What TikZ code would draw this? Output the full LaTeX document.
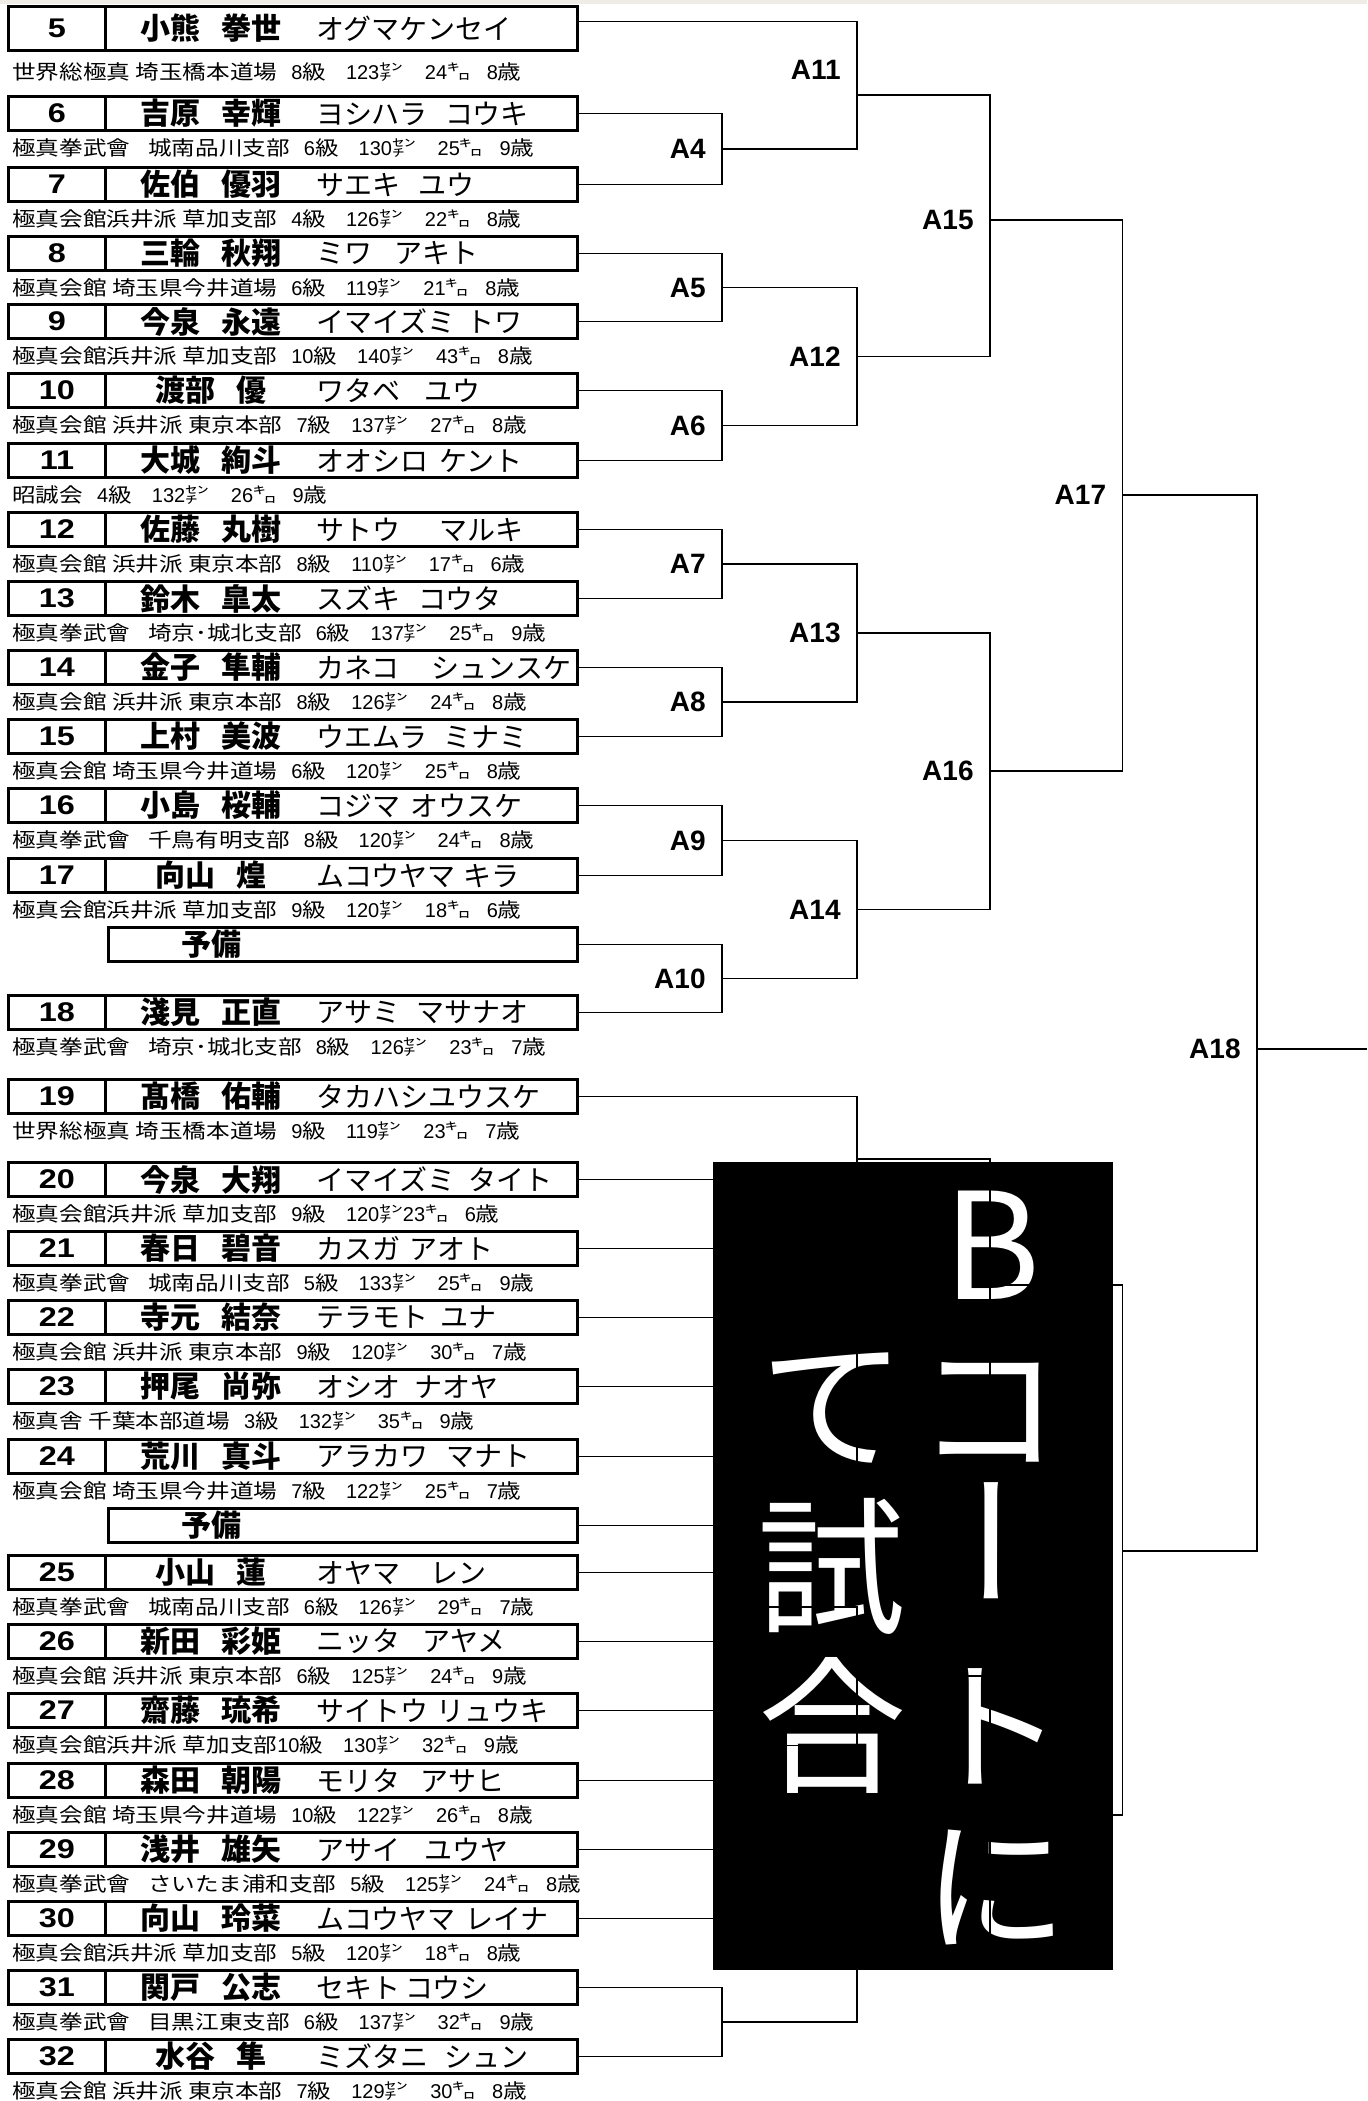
\documentclass[tikz,border=0pt]{standalone}
\usepackage{fontspec}
\newfontfamily\jpfont{Noto Sans CJK JP}
\newfontfamily\jpinfo{Noto Sans CJK JP}[FakeStretch=1.18]
\newfontfamily\bigfont{Noto Sans CJK JP}[RawFeature=+vert]
\newfontfamily\numfont{Liberation Sans}[FakeStretch=1.2]
\newfontfamily\labfont{Liberation Sans}
\usetikzlibrary{positioning}
\definecolor{sheet}{RGB}{238,236,228}

\newcommand{\dg}[1]{{\labfont\fontsize{10pt}{10pt}\selectfont #1}}
\newcommand{\stats}[4]{\hspace{7pt}\dg{#1}級\hspace{10pt}\dg{#2}㌢\hspace{11pt}\dg{#3}㌔\hspace{8pt}\dg{#4}歳}

\tikzset{
    pbox/.style={
    rectangle,draw=black,line width=1.5pt,minimum width=284.5pt,minimum height=17pt,inner sep=0pt
    },
    sbox/.style={
    pbox,minimum width=234.5pt
    },
    divline/.style={line width=1.5pt},
    numtext/.style={inner sep=0pt,font=\numfont\bfseries\fontsize{13.5pt}{13.5pt}\selectfont},
    kanjitext/.style={inner sep=0pt,font=\jpfont\bfseries\fontsize{15pt}{15pt}\selectfont},
    kanatext/.style={inner sep=0pt,anchor=west,font=\jpfont\fontsize{14pt}{14pt}\selectfont},
    infotext/.style={inner sep=0pt,anchor=west,font=\jpinfo\fontsize{10pt}{10pt}\selectfont},
    mlab/.style={inner sep=0pt,font=\labfont\bfseries\fontsize{14pt}{14pt}\selectfont},
    court/.style={rectangle,fill=black,inner sep=0pt,minimum width=200pt,minimum height=404pt},
    bigchar/.style={inner sep=0pt,text=white,font=\bigfont\fontsize{74pt}{74pt}\selectfont},
  bline/.style={draw, line width=0.7pt}
}

% one competitor: name, top, number, kanji, kana, info
\newcommand{\entry}[6]{%
  \node[pbox] (#1) at (293,#2+18.5) {};
  \draw[divline] ([xshift=49.25pt]#1.north west) -- ([xshift=49.25pt]#1.south west);
  \node[numtext] (#1n) at (57,#2+18.5) {#3};
  \node[kanjitext] (#1k) at (211,#2+18.5) {#4};
  \node[kanatext] (#1a) at (316,#2+18.5) {#5};
  \node[infotext] (#1i) at (12,#2+53) {#6};
}
% spare slot
\newcommand{\spare}[2]{%
  \node[sbox] (#1) at (343,#2+18.5) {};
  \node[kanjitext] (#1k) at (211,#2+18.5) {予備};
}

\begin{document}
\begin{tikzpicture}[x=0.5pt,y=-0.5pt]
    \useasboundingbox (0,0) rectangle (1367,2101);
    \fill[sheet] (0,0) rectangle (1367,4);

    % A side
    \node[pbox,minimum height=22pt] (p5) at (293,28.5) {};
    \draw[divline] ([xshift=49.25pt]p5.north west) -- ([xshift=49.25pt]p5.south west);
    \node[numtext] (p5n) at (57,28.5) {5};
    \node[kanjitext] (p5k) at (211,28.5) {小熊\hspace{11pt}拳世};
    \node[kanatext] (p5a) at (316,28.5) {オグマケンセイ};
    \node[infotext] (p5i) at (12,72) {世界総極真 埼玉橋本道場\stats{8}{123}{24}{8}};

    \entry{p6}{95}{6}{吉原\hspace{11pt}幸輝}{ヨシハラ\hspace{9pt}コウキ}{極真拳武會\hspace{9pt}城南品川支部\stats{6}{130}{25}{9}}
    \entry{p7}{166}{7}{佐伯\hspace{11pt}優羽}{サエキ\hspace{9pt}ユウ}{極真会館浜井派 草加支部\stats{4}{126}{22}{8}}
    \entry{p8}{235}{8}{三輪\hspace{11pt}秋翔}{ミワ\hspace{11pt}アキト}{極真会館 埼玉県今井道場\stats{6}{119}{21}{8}}
    \entry{p9}{303}{9}{今泉\hspace{11pt}永遠}{イマイズミ\hspace{5.5pt}トワ}{極真会館浜井派 草加支部\stats{10}{140}{43}{8}}
    \entry{p10}{372}{10}{渡部\hspace{11pt}優}{ワタベ\hspace{12pt}ユウ}{極真会館 浜井派 東京本部\stats{7}{137}{27}{8}}
    \entry{p11}{442}{11}{大城\hspace{11pt}絢斗}{オオシロ\hspace{5.5pt}ケント}{昭誠会\stats{4}{132}{26}{9}}
    \entry{p12}{511}{12}{佐藤\hspace{11pt}丸樹}{サトウ\hspace{19.5pt}マルキ}{極真会館 浜井派 東京本部\stats{8}{110}{17}{6}}
    \entry{p13}{580}{13}{鈴木\hspace{11pt}皐太}{スズキ\hspace{9pt}コウタ}{極真拳武會\hspace{9pt}埼京･城北支部\stats{6}{137}{25}{9}}
    \entry{p14}{649}{14}{金子\hspace{11pt}隼輔}{カネコ\hspace{16pt}シュンスケ}{極真会館 浜井派 東京本部\stats{8}{126}{24}{8}}
    \entry{p15}{718}{15}{上村\hspace{11pt}美波}{ウエムラ\hspace{8.5pt}ミナミ}{極真会館 埼玉県今井道場\stats{6}{120}{25}{8}}
    \entry{p16}{787}{16}{小島\hspace{11pt}桜輔}{コジマ\hspace{5pt}オウスケ}{極真拳武會\hspace{9pt}千鳥有明支部\stats{8}{120}{24}{8}}
    \entry{p17}{857}{17}{向山\hspace{11pt}煌}{ムコウヤマ\hspace{4pt}キラ}{極真会館浜井派 草加支部\stats{9}{120}{18}{6}}
    \spare{r1}{926}
    \entry{p18}{994}{18}{淺見\hspace{11pt}正直}{アサミ\hspace{8pt}マサナオ}{極真拳武會\hspace{9pt}埼京･城北支部\stats{8}{126}{23}{7}}

    % B side
    \entry{p19}{1078}{19}{髙橋\hspace{11pt}佑輔}{タカハシユウスケ}{世界総極真 埼玉橋本道場\stats{9}{119}{23}{7}}
    \entry{p20}{1161}{20}{今泉\hspace{11pt}大翔}{イマイズミ\hspace{6.5pt}タイト}{極真会館浜井派 草加支部\hspace{7pt}\dg{9}級\hspace{10pt}\dg{120}㌢\dg{23}㌔\hspace{8pt}\dg{6}歳}
    \entry{p21}{1230}{21}{春日\hspace{11pt}碧音}{カスガ\hspace{4.5pt}アオト}{極真拳武會\hspace{9pt}城南品川支部\stats{5}{133}{25}{9}}
    \entry{p22}{1299}{22}{寺元\hspace{11pt}結奈}{テラモト\hspace{6pt}ユナ}{極真会館 浜井派 東京本部\stats{9}{120}{30}{7}}
    \entry{p23}{1368}{23}{押尾\hspace{11pt}尚弥}{オシオ\hspace{7pt}ナオヤ}{極真舎 千葉本部道場\stats{3}{132}{35}{9}}
    \entry{p24}{1438}{24}{荒川\hspace{11pt}真斗}{アラカワ\hspace{9pt}マナト}{極真会館 埼玉県今井道場\stats{7}{122}{25}{7}}
    \spare{r2}{1507}
    \entry{p25}{1554}{25}{小山\hspace{11pt}蓮}{オヤマ\hspace{15pt}レン}{極真拳武會\hspace{9pt}城南品川支部\stats{6}{126}{29}{7}}
    \entry{p26}{1623}{26}{新田\hspace{11pt}彩姫}{ニッタ\hspace{11pt}アヤメ}{極真会館 浜井派 東京本部\stats{6}{125}{24}{9}}
    \entry{p27}{1692}{27}{齋藤\hspace{11pt}琉希}{サイトウ\hspace{4pt}リュウキ}{極真会館浜井派 草加支部\dg{10}級\hspace{10pt}\dg{130}㌢\hspace{11pt}\dg{32}㌔\hspace{8pt}\dg{9}歳}
    \entry{p28}{1762}{28}{森田\hspace{11pt}朝陽}{モリタ\hspace{10pt}アサヒ}{極真会館 埼玉県今井道場\stats{10}{122}{26}{8}}
    \entry{p29}{1831}{29}{浅井\hspace{11pt}雄矢}{アサイ\hspace{12pt}ユウヤ}{極真拳武會\hspace{9pt}さいたま浦和支部\stats{5}{125}{24}{8}}
    \entry{p30}{1900}{30}{向山\hspace{11pt}玲菜}{ムコウヤマ\hspace{5pt}レイナ}{極真会館浜井派 草加支部\stats{5}{120}{18}{8}}
    \entry{p31}{1969}{31}{関戸\hspace{11pt}公志}{セキト\hspace{2.5pt}コウシ}{極真拳武會\hspace{9pt}目黒江東支部\stats{6}{137}{32}{9}}
    \entry{p32}{2038}{32}{水谷\hspace{11pt}隼}{ミズタニ\hspace{8pt}シュン}{極真会館 浜井派 東京本部\stats{7}{129}{30}{8}}

    % B court notice
    \node[court] (bcourt) at (913,1566) {};
    \node[bigchar] (cB) at (992,1245) {B};
    \node[bigchar] (cko) at (990,1412) {コ};
    \node[bigchar] (cbar) at (992,1541) {ー};
    \node[bigchar] (cto) at (992,1726) {ト};
    \node[bigchar] (cni) at (995,1887) {に};
    \node[bigchar] (cte) at (833,1408) {て};
    \node[bigchar] (cshi) at (831,1566) {試};
    \node[bigchar] (cgo) at (832,1725) {合};

    % match points
    \coordinate (a4) at (722,149);
    \coordinate (a5) at (722,287.5);
    \coordinate (a6) at (722,425.5);
    \coordinate (a7) at (722,564);
    \coordinate (a8) at (722,702);
    \coordinate (a9) at (722,840.5);
    \coordinate (a10) at (722,978.5);
    \coordinate (a11) at (857,95);
    \coordinate (a12) at (857,356.5);
    \coordinate (a13) at (857,633);
    \coordinate (a14) at (857,909.5);
    \coordinate (a15) at (990,220);
    \coordinate (a16) at (990,771);
    \coordinate (a17) at (1122.5,495);
    \coordinate (a18) at (1257,1049);
    \coordinate (fin) at (1367,1049);
    \coordinate (bq1) at (722,1214);
    \coordinate (bq2) at (722,1352);
    \coordinate (bq3) at (722,1491);
    \coordinate (bq4) at (722,1607);
    \coordinate (bq5) at (722,1745.5);
    \coordinate (bq6) at (722,1884);
    \coordinate (bq7) at (722,2022);
    \coordinate (bs1) at (857,1159);
    \coordinate (bs2) at (857,1421.5);
    \coordinate (bs3) at (857,1676);
    \coordinate (bs4) at (857,1953);
    \coordinate (bt1) at (990,1285);
    \coordinate (bt2) at (990,1815);
    \coordinate (bf) at (1122.5,1551);

    \begin{scope} [every path/.style=bline]
      \path (p6.east) -| (a4) |- (p7.east);
      \path (p8.east) -| (a5) |- (p9.east);
      \path (p10.east) -| (a6) |- (p11.east);
      \path (p12.east) -| (a7) |- (p13.east);
      \path (p14.east) -| (a8) |- (p15.east);
      \path (p16.east) -| (a9) |- (p17.east);
      \path (r1.east) -| (a10) |- (p18.east);
      \path ([yshift=3.5pt]p5.east) -| (a11) |- (a4);
      \path (a5) -| (a12) |- (a6);
      \path (a7) -| (a13) |- (a8);
      \path (a9) -| (a14) |- (a10);
      \path (a11) -| (a15) |- (a12);
      \path (a13) -| (a16) |- (a14);
      \path (a15) -| (a17) |- (a16);
      \path (a17) -| (a18) |- (bf);
      \path (a18) -- (fin);

      \path (p20.east) -| (bq1) |- (p21.east);
      \path (p22.east) -| (bq2) |- (p23.east);
      \path (p24.east) -| (bq3) |- (r2.east);
      \path (p25.east) -| (bq4) |- (p26.east);
      \path (p27.east) -| (bq5) |- (p28.east);
      \path (p29.east) -| (bq6) |- (p30.east);
      \path (p31.east) -| (bq7) |- (p32.east);
      \path (p19.east) -| (bs1) |- (bq1);
      \path (bq2) -| (bs2) |- (bq3);
      \path (bq4) -| (bs3) |- (bq5);
      \path (bq6) -| (bs4) |- (bq7);
      \path (bs1) -| (bt1) |- (bs2);
      \path (bs3) -| (bt2) |- (bs4);
      \path (bt1) -| (bf) |- (bt2);
    \end{scope}

    \node[mlab,left=8pt of a4] (la4) {A4};
    \node[mlab,left=8pt of a5] (la5) {A5};
    \node[mlab,left=8pt of a6] (la6) {A6};
    \node[mlab,left=8pt of a7] (la7) {A7};
    \node[mlab,left=8pt of a8] (la8) {A8};
    \node[mlab,left=8pt of a9] (la9) {A9};
    \node[mlab,left=8pt of a10] (la10) {A10};
    \node[mlab,left=8pt of a11,yshift=12.5pt] (la11) {A11};
    \node[mlab,left=8pt of a12] (la12) {A12};
    \node[mlab,left=8pt of a13] (la13) {A13};
    \node[mlab,left=8pt of a14] (la14) {A14};
    \node[mlab,left=8pt of a15] (la15) {A15};
    \node[mlab,left=8pt of a16] (la16) {A16};
    \node[mlab,left=8pt of a17] (la17) {A17};
    \node[mlab,left=8pt of a18] (la18) {A18};

  \end{tikzpicture}
\end{document}
